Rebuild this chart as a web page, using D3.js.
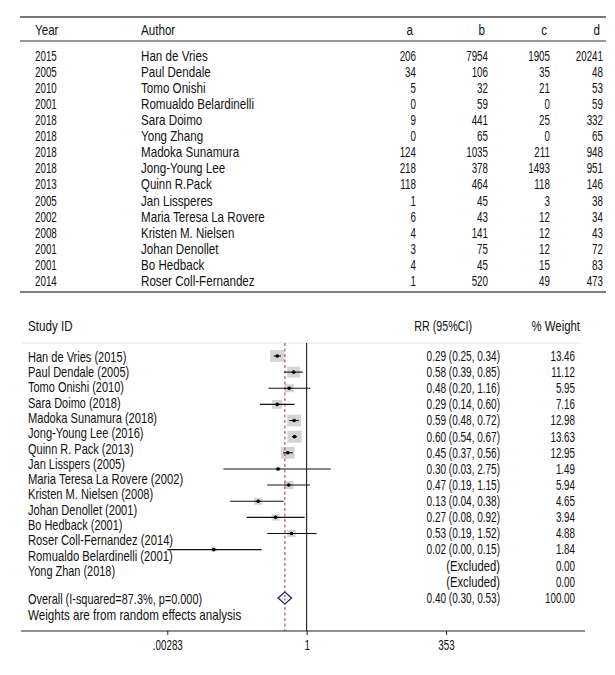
<!DOCTYPE html>
<html>
<head>
<meta charset="utf-8">
<script src="https://cdn.jsdelivr.net/npm/d3@7"></script>
<style>
  body { margin: 0; background: #fff; }
  svg text { font-family: "Liberation Sans", Arial, sans-serif; font-size: 14px; fill: #111; }
</style>
</head>
<body>
<svg width="615" height="675"></svg>
<script>
// top table
var years = [2015, 2005, 2010, 2001, 2018, 2018, 2018, 2018, 2013, 2005, 2002, 2008, 2001, 2001, 2014];
var authors = ["Han de Vries", "Paul Dendale", "Tomo Onishi", "Romualdo Belardinelli", "Sara Doimo",
  "Yong Zhang", "Madoka Sunamura", "Jong-Young Lee", "Quinn R.Pack", "Jan Lissperes",
  "Maria Teresa La Rovere", "Kristen M. Nielsen", "Johan Denollet", "Bo Hedback", "Roser Coll-Fernandez"];
var colA = [206, 34, 5, 0, 9, 0, 124, 218, 118, 1, 6, 4, 3, 4, 1];
var colB = [7954, 106, 32, 59, 441, 65, 1035, 378, 464, 45, 43, 141, 75, 45, 520];
var colC = [1905, 35, 21, 0, 25, 0, 211, 1493, 118, 3, 12, 12, 12, 15, 49];
var colD = [20241, 48, 53, 59, 332, 65, 948, 951, 146, 38, 34, 43, 72, 83, 473];
var tableHeaders = ["Year", "Author", "a", "b", "c", "d"];

// forest plot
var studyLabels = ["Han de Vries (2015)", "Paul Dendale (2005)", "Tomo Onishi (2010)", "Sara Doimo (2018)",
  "Madoka Sunamura (2018)", "Jong-Young Lee (2016)", "Quinn R. Pack (2013)", "Jan Lisspers (2005)",
  "Maria Teresa La Rovere (2002)", "Kristen M. Nielsen (2008)", "Johan Denollet (2001)", "Bo Hedback (2001)",
  "Roser Coll-Fernandez (2014)", "Romualdo Belardinelli (2001)", "Yong Zhan (2018)"];
var rr     = [0.29, 0.58, 0.48, 0.29, 0.59, 0.60, 0.45, 0.30, 0.47, 0.13, 0.27, 0.53, 0.02, null, null];
var lower  = [0.25, 0.39, 0.20, 0.14, 0.48, 0.54, 0.37, 0.03, 0.19, 0.04, 0.08, 0.19, 0.00283, null, null];
var upper  = [0.34, 0.85, 1.16, 0.60, 0.72, 0.67, 0.56, 2.75, 1.15, 0.38, 0.92, 1.52, 0.15, null, null];
var weight = [13.46, 11.12, 5.95, 7.16, 12.98, 13.63, 12.95, 1.49, 5.94, 4.65, 3.94, 4.88, 1.84, 0.00, 0.00];
var overall = [0.40, 0.30, 0.53];
var overallWeight = 100.00;
var overallLabel = "Overall (I-squared=87.3%, p=0.000)";
var noteLabel = "Weights are from random effects analysis";
var tickValues = [0.00283, 1, 353];
var tickLabels = [".00283", "1", "353"];

var svg = d3.select("svg");
var f2 = d3.format(".2f");

// ---------- table ----------
var yTab = d3.scaleLinear().domain([0, 14]).range([56, 281]);
var colX = [35, 141, 416, 488, 550, 603];

svg.append("line").attr("x1", 20).attr("x2", 606).attr("y1", 17).attr("y2", 17)
    .attr("stroke", "#777").attr("stroke-width", 1.8);
svg.append("line").attr("x1", 20).attr("x2", 606).attr("y1", 41).attr("y2", 41)
    .attr("stroke", "#333").attr("stroke-width", 1.2);
svg.append("line").attr("x1", 20).attr("x2", 606).attr("y1", 292).attr("y2", 292)
    .attr("stroke", "#555").attr("stroke-width", 1.4);

svg.selectAll(".th").data(tableHeaders).enter().append("text")
    .attr("x", function(d, i) { return i < 2 ? colX[i] : colX[i] - 3; })
    .attr("y", 30).attr("dy", "0.35em")
    .attr("text-anchor", function(d, i) { return i < 2 ? "start" : "end"; })
    .text(function(d) { return d; });

var cols = [years, authors, colA, colB, colC, colD];
cols.forEach(function(arr, c) {
  svg.append("g").selectAll("text").data(arr).enter().append("text")
      .attr("x", colX[c])
      .attr("y", function(d, i) { return yTab(i); }).attr("dy", "0.35em")
      .attr("text-anchor", c < 2 ? "start" : "end")
      .text(function(d) { return d; });
});

// ---------- forest ----------
var x = d3.scaleLog().domain([0.00283, 353]).range([167.3, 446]);
var yRow = d3.scaleLinear().domain([0, 15]).range([356, 598]);
var yLab = d3.scaleLinear().domain([0, 14]).range([357, 571]);
var plotTop = 343, axisY = 631;

svg.append("text").attr("x", 28).attr("y", 326).attr("dy", "0.35em").text("Study ID");
svg.append("text").attr("x", 472).attr("y", 326).attr("dy", "0.35em").attr("text-anchor", "end").text("RR (95%CI)");
svg.append("text").attr("x", 580).attr("y", 326).attr("dy", "0.35em").attr("text-anchor", "end").text("% Weight");
svg.append("line").attr("x1", 22).attr("x2", 580).attr("y1", plotTop).attr("y2", plotTop)
    .attr("stroke", "#e6e6e6").attr("stroke-width", 1);

// labels
svg.append("g").selectAll("text").data(studyLabels).enter().append("text")
    .attr("x", 28).attr("y", function(d, i) { return yLab(i); }).attr("dy", "0.35em")
    .text(function(d) { return d; });
svg.append("text").attr("x", 28).attr("y", yRow(15) + 1).attr("dy", "0.35em").text(overallLabel);
svg.append("text").attr("x", 28).attr("y", yRow(15) + 17).attr("dy", "0.35em").text(noteLabel);

// value columns
svg.append("g").selectAll("text").data(rr).enter().append("text")
    .attr("x", 500).attr("y", function(d, i) { return yRow(i); }).attr("dy", "0.35em")
    .attr("text-anchor", "end")
    .text(function(d, i) { return d == null ? "(Excluded)" : f2(d) + " (" + f2(lower[i]) + ", " + f2(upper[i]) + ")"; });
svg.append("text").attr("x", 500).attr("y", yRow(15)).attr("dy", "0.35em").attr("text-anchor", "end")
    .text(f2(overall[0]) + " (" + f2(overall[1]) + ", " + f2(overall[2]) + ")");
svg.append("g").selectAll("text").data(weight).enter().append("text")
    .attr("x", 575).attr("y", function(d, i) { return yRow(i); }).attr("dy", "0.35em")
    .attr("text-anchor", "end")
    .text(function(d) { return f2(d); });
svg.append("text").attr("x", 575).attr("y", yRow(15)).attr("dy", "0.35em").attr("text-anchor", "end")
    .text(f2(overallWeight));

// boxes
var studies = rr.map(function(d, i) { return {rr: d, lo: lower[i], hi: upper[i], w: weight[i], i: i}; })
    .filter(function(d) { return d.rr != null; });
var k = 3.27;
svg.append("g").selectAll("rect").data(studies).enter().append("rect")
    .attr("x", function(d) { return x(d.rr) - k * Math.sqrt(d.w) * 1.18 / 2; })
    .attr("y", function(d) { return yRow(d.i) - k * Math.sqrt(d.w) / 2; })
    .attr("width", function(d) { return k * Math.sqrt(d.w) * 1.18; })
    .attr("height", function(d) { return k * Math.sqrt(d.w); })
    .attr("fill", "#d4d4d4");

// reference lines
svg.append("line").attr("x1", x(1)).attr("x2", x(1)).attr("y1", plotTop).attr("y2", axisY)
    .attr("stroke", "#000").attr("stroke-width", 1);
svg.append("line").attr("x1", x(overall[0])).attr("x2", x(overall[0])).attr("y1", plotTop).attr("y2", axisY)
    .attr("stroke", "#a83232").attr("stroke-width", 1).attr("stroke-dasharray", "3,2.5");

// CI lines and points
svg.append("g").selectAll("line").data(studies).enter().append("line")
    .attr("x1", function(d) { return x(d.lo); }).attr("x2", function(d) { return x(d.hi); })
    .attr("y1", function(d) { return yRow(d.i); }).attr("y2", function(d) { return yRow(d.i); })
    .attr("stroke", "#111").attr("stroke-width", 1.1);
svg.append("g").selectAll("circle").data(studies).enter().append("circle")
    .attr("cx", function(d) { return x(d.rr); }).attr("cy", function(d) { return yRow(d.i); })
    .attr("r", 1.8).attr("fill", "#000");

// overall diamond
var yo = yRow(15);
svg.append("path")
    .attr("d", "M" + x(overall[1]) + "," + yo + "L" + x(overall[0]) + "," + (yo - 6) +
               "L" + x(overall[2]) + "," + yo + "L" + x(overall[0]) + "," + (yo + 6) + "Z")
    .attr("fill", "#fff").attr("stroke", "#22227a").attr("stroke-width", 1.3);
svg.append("line").attr("x1", x(overall[0])).attr("x2", x(overall[0])).attr("y1", yo - 3).attr("y2", yo + 3)
    .attr("stroke", "#a83232").attr("stroke-width", 1).attr("stroke-dasharray", "2,1.5");

// axis
svg.append("line").attr("x1", 21).attr("x2", 585).attr("y1", axisY).attr("y2", axisY)
    .attr("stroke", "#222").attr("stroke-width", 1);
var axis = svg.append("g")
    .attr("transform", "translate(0," + axisY + ")")
    .call(d3.axisBottom(x).tickValues(tickValues).tickSize(4).tickPadding(5)
      .tickFormat(function(d, i) { return tickLabels[i]; }));
axis.select(".domain").remove();
axis.selectAll("line").attr("stroke", "#222");
axis.selectAll("text").attr("font-family", null).attr("font-size", null);

// condensed look: squeeze each text horizontally round its anchor, digits narrower than letters
svg.selectAll("text").each(function() {
  var s = this.textContent;
  var num = (s.match(/[0-9.,()%]/g) || []).length / s.length;
  var f = 0.83 - 0.13 * num;
  var ax = +(this.getAttribute("x") || 0);
  this.setAttribute("transform", "translate(" + ax + ",0) scale(" + f + ",1) translate(" + (-ax) + ",0)");
});
</script>
</body>
</html>
